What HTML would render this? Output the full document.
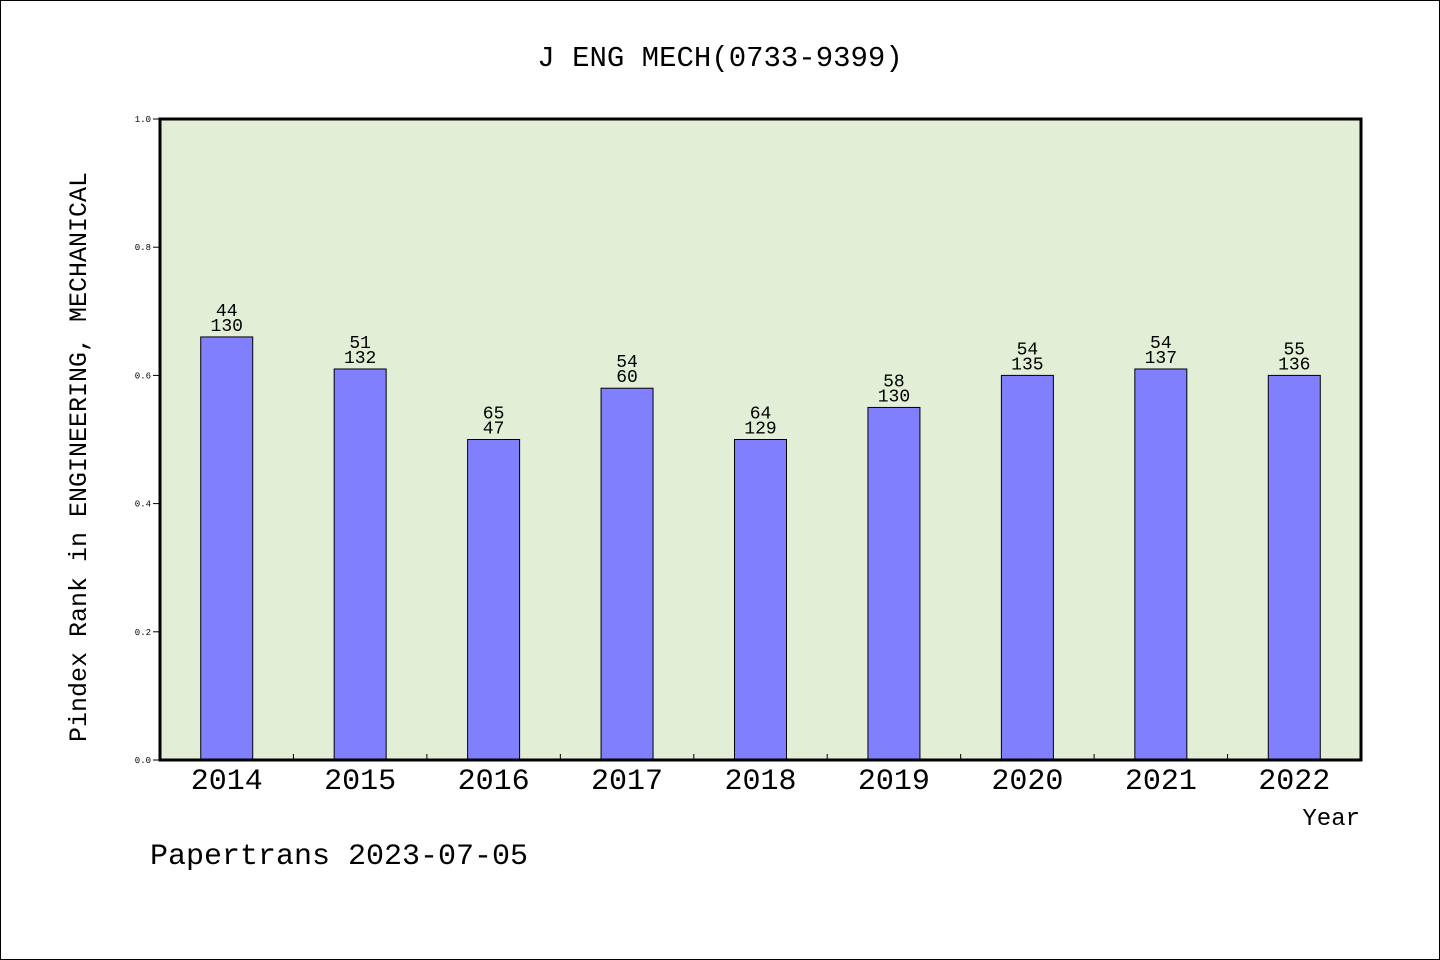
<!DOCTYPE html>
<html><head><meta charset="utf-8"><style>
html,body{margin:0;padding:0;background:#fff}
svg{display:block}
text{font-family:"Liberation Mono","WenQuanYi Zen Hei",monospace;fill:#000}
</style></head><body>
<svg id="chart" width="1440" height="960" xmlns="http://www.w3.org/2000/svg">
<rect x="0.5" y="0.5" width="1439" height="959" fill="#fff" stroke="#000"/>
<text x="720" y="66" font-size="29" text-anchor="middle">J ENG MECH(0733-9399)</text>
<rect x="160" y="119" width="1201" height="641" fill="#e2efd6"/>
<g id="bars"></g>
<rect x="160" y="119" width="1201" height="641" fill="none" stroke="#000" stroke-width="3"/>
<g id="axes"></g>
<text transform="translate(86,457) rotate(-90)" font-size="25" text-anchor="middle">Pindex Rank in ENGINEERING, MECHANICAL</text>
<text x="1360" y="825" font-size="24" text-anchor="end">Year</text>
<text x="150" y="864" font-size="30">Papertrans 2023-07-05</text>
</svg>
<script>
const categories=["2014","2015","2016","2017","2018","2019","2020","2021","2022"];
const values=[0.66,0.61,0.5,0.58,0.5,0.55,0.6,0.61,0.6];
const ranks=["44","51","65","54","64","58","54","54","55"];
const totals=["130","132","47","60","129","130","135","137","136"];
const yTicks=[0,0.2,0.4,0.6,0.8,1.0];
const X0=160,X1=1361,Y0=760,Y1=119;
const band=(X1-X0)/categories.length;
function xC(i){return X0+band*(i+0.5);}
function y(v){return Y0-(Y0-Y1)*v;}
const NS="http://www.w3.org/2000/svg";
function mk(t,a){const e=document.createElementNS(NS,t);for(const k in a)e.setAttribute(k,a[k]);return e;}
const bars=document.getElementById('bars'),axes=document.getElementById('axes');
categories.forEach((c,i)=>{
  const r=mk('rect',{x:xC(i)-26,y:y(values[i]),width:52,height:Y0-y(values[i]),fill:'#8080ff',stroke:'#000','stroke-width':1});
  
  
  bars.appendChild(r);
  const t1=mk('text',{x:xC(i),y:y(values[i])-21,'font-size':18,'text-anchor':'middle'});t1.textContent=ranks[i];
  
  
  bars.appendChild(t1);
  const t2=mk('text',{x:xC(i),y:y(values[i])-6,'font-size':18,'text-anchor':'middle'});t2.textContent=totals[i];
  
  
  bars.appendChild(t2);
  const xl=mk('text',{x:xC(i),y:789,'font-size':30,'text-anchor':'middle'});xl.textContent=c;
  
  
  axes.appendChild(xl);
  if(i>0){const tk=mk('line',{x1:X0+band*i,x2:X0+band*i,y1:Y0,y2:Y0-6,stroke:'#000'});
  
  
  axes.appendChild(tk);}
});
yTicks.forEach(v=>{
  const l=mk('line',{x1:153,x2:160,y1:y(v),y2:y(v),stroke:'#000'});
  
  
  axes.appendChild(l);
  const t=mk('text',{x:151,y:y(v)+3,'font-size':9,'text-anchor':'end'});t.textContent=v.toFixed(1);
  
  
  axes.appendChild(t);
});
</script>
</body></html>
